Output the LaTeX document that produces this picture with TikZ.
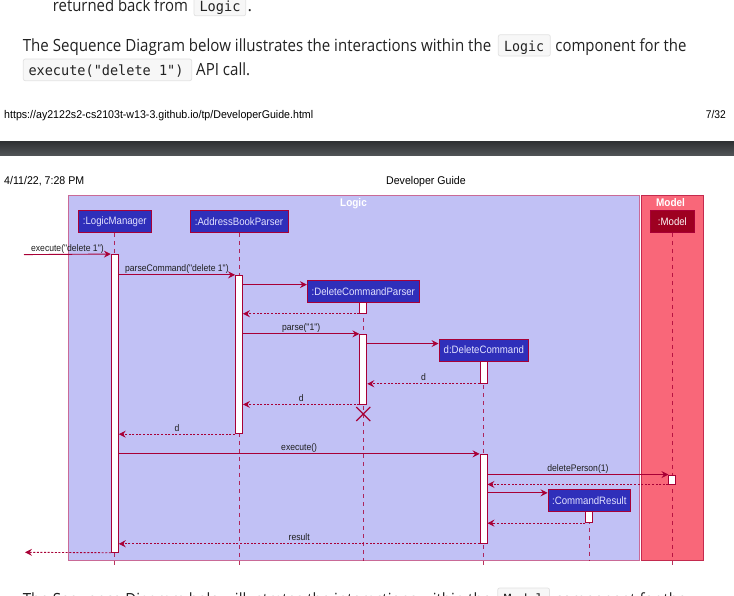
\documentclass[tikz,border=0pt]{standalone}
\usepackage{fontspec}
\usepackage{graphicx}
\usetikzlibrary{arrows.meta,calc}

\newfontfamily\umlfont{Liberation Sans}[FakeStretch=0.9]
\newfontfamily\headfont{Liberation Sans}
\newfontfamily\pagefont{Open Sans}
\newfontfamily\codefont{DejaVu Sans Mono}
\newcommand\fitw[2]{\resizebox{#1}{\height}{#2}}

\definecolor{crim}{HTML}{A80036}
\definecolor{logicbg}{HTML}{C1C1F5}
\definecolor{logicedge}{HTML}{C96A97}
\definecolor{modelbg}{HTML}{F96779}
\definecolor{modeledge}{HTML}{C42A4E}
\definecolor{partbg}{HTML}{2F2FBA}
\definecolor{parttext}{HTML}{E2E2FF}
\definecolor{modelpart}{HTML}{9E0021}
\definecolor{codebg}{HTML}{F7F7F7}
\definecolor{codeedge}{HTML}{E2E2E2}
\definecolor{ink}{HTML}{1E1E1E}
\definecolor{bodyink}{HTML}{222222}
\definecolor{bartop}{HTML}{2E3032}
\definecolor{barbot}{HTML}{505356}

\tikzset{
  participant/.style={draw=crim, line width=0.9pt, fill=partbg, text=parttext,
    font=\umlfont\fontsize{10.7}{12}\selectfont, inner sep=0pt, minimum height=22pt},
  actbar/.style={draw=crim, fill=white, line width=0.9pt, minimum width=7pt, inner sep=0pt},
  lifeline/.style={draw=crim, draw opacity=0.8, dash pattern=on 4pt off 4pt, line width=0.9pt},
  msg/.style={draw=crim, line width=0.9pt, -{Stealth[length=7pt,width=7pt,inset=2.5pt]}},
  ret/.style={msg, dash pattern=on 2pt off 1.6pt},
  lbl/.style={font=\umlfont\fontsize{9.55}{11}\selectfont, text=ink, inner sep=0pt,
    anchor=base, yshift=3pt},
  frametitle/.style={font=\umlfont\bfseries\fontsize{11.1}{13}\selectfont, text=white,
    inner sep=0pt, anchor=base},
  codebox/.style={fill=codebg, draw=codeedge, line width=0.7pt, rounded corners=2pt},
  bodytext/.style={anchor=base west, inner sep=0pt, text=bodyink},
  headtext/.style={anchor=base west, inner sep=0pt, text=black},
}

\newcommand\bodyfnt{\pagefont\fontsize{16.8}{20}\selectfont}
\newcommand\codefnt{\codefont\fontsize{14}{16}\selectfont}
\newcommand\headfnt{\headfont\fontsize{11.2}{13}\selectfont}

\begin{document}
\begin{tikzpicture}[x=1pt,y=-1pt]
\useasboundingbox (0,0) rectangle (734,595);
\clip (0,0) rectangle (734,595);
\fill[white] (0,0) rectangle (734,595);

% ---- running text above the figure ----
\node[bodytext] (t1) at (52.7,11.5) {\fitw{135pt}{\bodyfnt returned back from}};
\draw[codebox] (194,-5.5) rectangle (245.7,15.8);
\node[bodytext] (c1) at (199.3,11.3) {\fitw{41pt}{\codefnt Logic}};
\node[bodytext] (p1) at (247.4,11.5) {\bodyfnt .};

\node[bodytext] (t2) at (22.7,51.7) {\fitw{468.3pt}{\bodyfnt The Sequence Diagram below illustrates the interactions within the}};
\draw[codebox] (498.3,34.7) rectangle (550.3,56);
\node[bodytext] (c2) at (504,51.5) {\fitw{40pt}{\codefnt Logic}};
\node[bodytext] (t3) at (555.2,51.7) {\fitw{131pt}{\bodyfnt component for the}};

\draw[codebox] (23.3,59) rectangle (191.7,80.7);
\node[bodytext] (c3) at (28.3,75.3) {\fitw{155pt}{\codefnt execute("delete 1")}};
\node[bodytext] (t4) at (196,75) {\fitw{54pt}{\bodyfnt API call.}};

% ---- page footer / header ----
\node[headtext] (url) at (4,118) {\fitw{309pt}{\headfnt https://ay2122s2-cs2103t-w13-3.github.io/tp/DeveloperGuide.html}};
\node[headtext, anchor=base east] (pg) at (726,118) {\fitw{20pt}{\headfnt 7/32}};
\shade[top color=bartop, bottom color=barbot] (0,141) rectangle (734,155);
\node[headtext] (date) at (4,184) {\fitw{80pt}{\headfnt 4/11/22, 7:28 PM}};
\node[headtext] (title) at (386,184) {\fitw{79.5pt}{\headfnt Developer Guide}};

% ---- component frames ----
\draw[fill=logicbg, draw=logicedge, line width=1.1pt] (68.7,195.7) rectangle (639.5,560.7);
\draw[fill=modelbg, draw=modeledge, line width=1.1pt] (641.2,195.7) rectangle (703.7,560.7);
\node[frametitle] (logicT) at (353.5,206.3) {Logic};
\node[frametitle] (modelT) at (670.5,206.3) {Model};

% ---- participants ----
\node[participant, minimum width=73.7pt] (LM)  at (114.8,221.3) {:LogicManager};
\node[participant, minimum width=98pt]   (ABP) at (239,221.3) {:AddressBookParser};
\node[participant, fill=modelpart, draw=crim, minimum width=44pt, text=white!92!pink] (MD) at (672.4,221.5) {:Model};

\coordinate (lowEnd) at (0,565);
\coordinate (frameEnd) at (0,561);

% lifelines
\draw[lifeline] (LM.south) -- (LM.south |- lowEnd);
\draw[lifeline] (ABP.south) -- (ABP.south |- lowEnd);
\draw[lifeline] (363.3,302.3) -- (363.3,561);
\draw[lifeline] (483.5,361) -- (483.5,565);
\draw[lifeline] (589.3,511.7) -- (589.3,561);
\draw[lifeline] (MD.south) -- (MD.south |- lowEnd);

% activation bars
\node[actbar, minimum height=297.8pt] (actLM)   at (114.8,403.4) {};
\node[actbar, minimum height=158.4pt] (actABP)  at (239,354.5) {};
\node[actbar, minimum height=11pt]    (actDCP1) at (363.3,307.8) {};
\node[actbar, minimum height=69.7pt]  (actDCP2) at (363.3,369.15) {};
\node[actbar, minimum height=22.3pt]  (actDC1)  at (483.5,372.15) {};
\node[actbar, minimum height=89pt]    (actDC2)  at (483.5,498.8) {};
\node[actbar, minimum height=9pt]     (actM)    at (672.4,479.5) {};
\node[actbar, minimum height=11pt]    (actCR)   at (589.3,517.2) {};

% created participants
\node[participant, minimum width=112pt, minimum height=21.6pt] (DCP) at (363.3,291.5) {:DeleteCommandParser};
\node[participant, minimum width=89.7pt, minimum height=21.7pt] (DC) at (483.85,350.15) {d:DeleteCommand};
\node[participant, minimum width=82.7pt] (CR) at (589.35,500.7) {:CommandResult};

\coordinate (caller) at (24,254.6);
\coordinate (exitPt) at (25,552.3);
\coordinate (dcpIn) at ($(DCP.north west)+(0,4.4)$);
\coordinate (dcIn)  at ($(DC.north west)+(0,4.7)$);
\coordinate (crIn)  at ($(CR.north west)+(0,3.6)$);

% messages
\draw[msg] (caller) -- (actLM.north west) node[lbl, midway] {execute("delete 1")};
\draw[msg] (actLM.east |- actABP.north) -- (actABP.north west) node[lbl, midway] {parseCommand("delete 1")};
\draw[msg] (actABP.east |- dcpIn) -- (dcpIn);
\draw[ret] (actDCP1.south west) -- (actABP.east |- actDCP1.south);
\draw[msg] (actABP.east |- actDCP2.north) -- (actDCP2.north west) node[lbl, midway] {parse("1")};
\draw[msg] (actDCP2.east |- dcIn) -- (dcIn);
\draw[ret] (actDC1.south west) -- (actDCP2.east |- actDC1.south) node[lbl, midway] {d};
\draw[ret] (actDCP2.south west) -- (actABP.east |- actDCP2.south) node[lbl, midway] {d};
\draw[crim, line width=1.2pt] ($(actDCP2.south)+(-7,2.5)$) -- ($(actDCP2.south)+(7,16.5)$)
                              ($(actDCP2.south)+(7,2.5)$) -- ($(actDCP2.south)+(-7,16.5)$);
\draw[ret] (actABP.south west) -- (actLM.east |- actABP.south) node[lbl, midway] {d};
\draw[msg] (actLM.east |- actDC2.north) -- (actDC2.north west) node[lbl, midway] {execute()};
\draw[msg] (actDC2.east |- actM.north) -- (actM.north west) node[lbl, midway] {deletePerson(1)};
\draw[ret] (actM.south west) -- (actDC2.east |- actM.south);
\draw[msg] (actDC2.east |- crIn) -- (crIn);
\draw[ret] (actCR.south west) -- (actDC2.east |- actCR.south);
\draw[ret] (actDC2.south west) -- (actLM.east |- actDC2.south) node[lbl, midway] {result};
\draw[ret] (actLM.south west) -- (exitPt);

% ---- running text below the figure ----
\node[bodytext] (t5) at (22.7,605) {\fitw{468.3pt}{\bodyfnt The Sequence Diagram below illustrates the interactions within the}};
\draw[codebox] (497.7,588) rectangle (549.5,609);
\node[bodytext] (c5) at (503.5,604.8) {\fitw{40pt}{\codefnt Model}};
\node[bodytext] (t6) at (555.2,605) {\fitw{131pt}{\bodyfnt component for the}};
\end{tikzpicture}
\end{document}
